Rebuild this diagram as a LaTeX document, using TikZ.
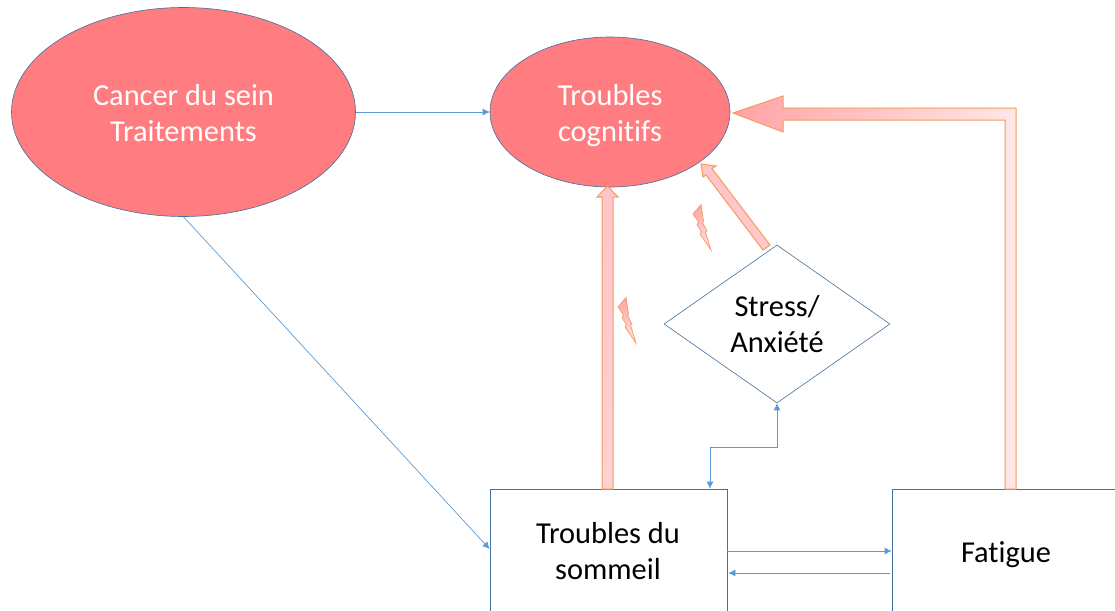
\documentclass[tikz,border=0pt]{standalone}
\usepackage{fontspec}
\setmainfont[RawFeature={-liga;-dlig;-clig}]{Carlito}
\usetikzlibrary{arrows.meta,shapes.geometric}
\definecolor{bluel}{HTML}{5B9BD5}
\definecolor{edgeb}{HTML}{41719C}
\definecolor{salmon}{HTML}{FF7C80}
\definecolor{orangel}{HTML}{F79A5C}
\newcommand{\lineup}[1]{\rule[-7pt]{0pt}{34pt}#1}
\newcommand{\lineupb}[1]{\rule[-7pt]{0pt}{36pt}#1}
\tikzset{
  bigtext/.style={align=center,font=\fontsize{30.4}{36}\selectfont,inner sep=0pt},
  oval/.style={bigtext,draw=edgeb,line width=.6pt,fill=salmon,ellipse,text=white},
  boxn/.style={draw=edgeb,line width=.7pt,fill=white,inner sep=0pt},
  conn/.style={draw=bluel,line width=.7pt,-{Latex[length=7pt,width=7pt]}},
  fat/.style={draw=orangel,line width=1pt},
  bolt/.style={draw=orangel,line width=.7pt,top color=salmon!70!white,bottom color=salmon!20!white},
}
\begin{document}
\begin{tikzpicture}[x=1pt,y=-1pt]
\useasboundingbox (0,0) rectangle (1115,610);
\node[oval,minimum width=344pt,minimum height=209pt] (cancer) at (183.5,112) {\lineupb{Cancer du sein}\\\lineupb{Traitements}};
\node[oval,minimum width=240pt,minimum height=150pt] (cog) at (610,112) {\lineupb{Troubles}\\\lineupb{cognitifs}};
\begin{scope}
\clip (0,0) rectangle (1115,610);
\node[boxn,minimum width=237pt,minimum height=180pt] (som) at (608.5,579) {};
\node[boxn,minimum width=260pt,minimum height=180pt] (fat) at (1022,579) {};
\end{scope}
\node[bigtext] (somt) at (608,551) {\lineup{Troubles du}\\\lineup{sommeil}};
\node[bigtext] (fatt) at (1006,552) {\lineup{Fatigue}};
\node[bigtext,diamond,draw=edgeb,line width=.6pt,fill=white,minimum width=226pt,minimum height=158pt,aspect=1.43] (stress) at (777,324) {\lineup{Stress/}\\\lineup{Anxiété}};
% connectors
\draw[conn] (cancer.east) -- (cog.west);
\draw[conn] (cancer.south) -- ([yshift=30pt]som.west);
\draw[conn,{Latex[length=7pt,width=7pt]}-{Latex[length=7pt,width=7pt]}] (stress.south) |- (710,447) -- ([xshift=101.5pt]som.north);
\draw[conn] ([yshift=28pt]som.east) -- ([yshift=28pt]fat.west);
\draw[conn] ([yshift=6pt,xshift=-2pt]fat.west) -- ([yshift=6pt,xshift=1pt]som.east);
% fat arrows
\draw[fat,top color=salmon!45!white,bottom color=salmon!35!white] (602,489) -- (602,197) -- (597,197) -- (607.5,186) -- (618,197) -- (613,197) -- (613,489) -- cycle;
\draw[fat,left color=salmon!70!white,right color=salmon!18!white] (733,113) -- (783,96) -- (783,108) -- (1016,108) -- (1016,489) -- (1005,489) -- (1005,120) -- (783,120) -- (783,132) -- cycle;
\draw[fat,top color=salmon!45!white,bottom color=salmon!40!white] (770,245) -- (712,168.5) -- (716,166) -- (701,164) -- (703,177) -- (706,175) -- (763,250) -- cycle;
% lightning
\draw[bolt] (693,214) -- (701,204.5) -- (703.5,221) -- (702.5,222.5) -- (707,231) -- (705.5,232) -- (711,250) -- (700,234) -- (701.5,231.5) -- (697,225) -- (698.5,222) -- cycle;
\draw[bolt] (618,307) -- (626,297.5) -- (628.5,314) -- (627.5,315.5) -- (632,324) -- (630.5,325) -- (636,343) -- (625,327) -- (626.5,324.5) -- (622,318) -- (623.5,315) -- cycle;
\end{tikzpicture}
\end{document}
